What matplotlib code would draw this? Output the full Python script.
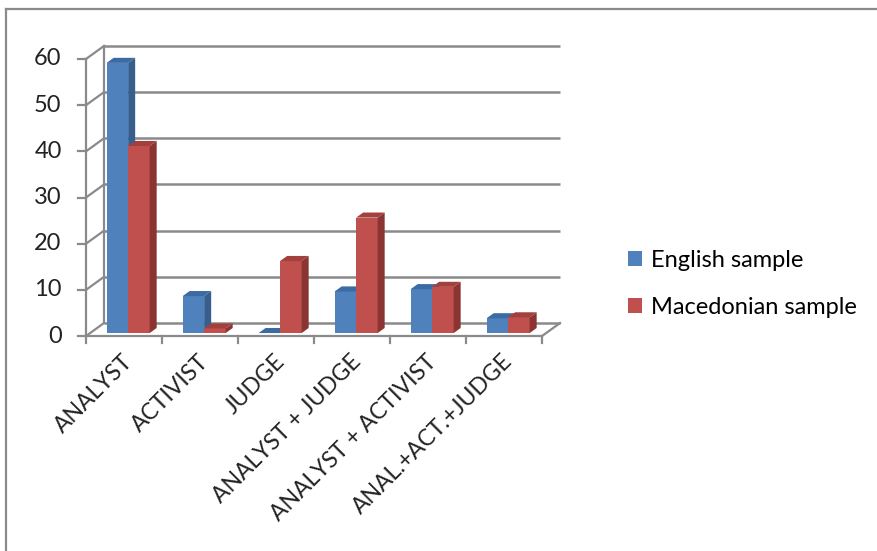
import matplotlib
matplotlib.use("Agg")
import matplotlib.pyplot as plt
from matplotlib.lines import Line2D
from matplotlib.patches import Patch

categories = ["ANALYST", "ACTIVIST", "JUDGE", "ANALYST + JUDGE",
              "ANALYST + ACTIVIST", "ANAL.+ACT.+JUDGE"]
english = [58.5, 8, 0, 9, 9.5, 3.2]
macedonian = [40.5, 1, 15.6, 25, 10, 3.4]
series_names = ["English sample", "Macedonian sample"]
y_ticks = [0, 10, 20, 30, 40, 50, 60]

plt.rcParams['font.family'] = ['Lato', 'DejaVu Sans']

W, H = 878, 551
fig = plt.figure(figsize=(W / 100, H / 100), dpi=100)
fig.patch.set_facecolor("white")

# axes placed so one category = 76 px and 60 units = 277 px
ax = fig.add_axes([48 / W, (H - 349.9) / H, 532 / W, 309.4 / H])
ax.set_xlim(-0.5, 6.5)
ax.set_ylim(-3, 64)
ax.axis("off")

GRID = "#8a8a8a"
n = len(categories)
dx, dy = 0.237, 2.82          # depth of the back wall (data units)
f0, f1 = 0.23, 0.62           # front / back depth of the bars
bw = 0.283

# back wall gridlines and the left diagonal
for v in y_ticks:
    ax.plot([dx, n + dx], [v + dy, v + dy], color=GRID, lw=1.8, zorder=1,
            solid_capstyle="butt")
    ax.plot([0, dx], [v, v + dy], color=GRID, lw=1.6, zorder=1)
ax.plot([dx, dx], [dy, y_ticks[-1] + dy], color=GRID, lw=1.6, zorder=1)
# floor
ax.plot([0, n], [0, 0], color=GRID, lw=1.6, zorder=1)
ax.plot([n, n + dx], [0, dy], color=GRID, lw=1.6, zorder=1)
# front value axis
ax.plot([0, 0], [0, y_ticks[-1]], color=GRID, lw=1.6, zorder=1)
for v in y_ticks:
    ax.plot([-0.105, 0], [v, v], color=GRID, lw=1.6, zorder=1, clip_on=False)
    ax.text(-0.32, v, str(v), ha="right", va="center", fontsize=17,
            color="#222222")
for i in range(n + 1):
    ax.plot([i, i], [0, -1.5], color=GRID, lw=1.6, zorder=1, clip_on=False)

faces = {
    0: ("#4F81BD", "#375E8D", "#3C6AA3"),
    1: ("#C0504D", "#8A3532", "#A3403D"),
}
ddx = (f1 - f0) * dx
ddy = (f1 - f0) * dy
z = 3
for i in range(n):
    left = i + 0.5 - bw + f0 * dx
    for s, vals in enumerate([english, macedonian]):
        v = vals[i]
        x0 = left + s * bw
        front, side, top = faces[s]
        b = f0 * dy
        ax.bar(x0, v, width=bw, bottom=b, align="edge", color=front,
               edgecolor="none", zorder=z)
        ax.fill([x0 + bw, x0 + bw + ddx, x0 + bw + ddx, x0 + bw],
                [b, b + ddy, b + v + ddy, b + v], color=side, lw=0, zorder=z)
        ax.fill([x0, x0 + ddx, x0 + bw + ddx, x0 + bw],
                [b + v, b + v + ddy, b + v + ddy, b + v], color=top, lw=0,
                zorder=z)
        z += 1

for i, lab in enumerate(categories):
    ax.text(i + 0.47, -3.2, lab, rotation=45, ha="right", va="top",
            rotation_mode="anchor", fontsize=16.5, color="#222222")

handles = [Patch(facecolor=faces[0][0]), Patch(facecolor=faces[1][0])]
fig.legend(handles, series_names, loc="center left",
           bbox_to_anchor=(616 / W, 1 - 284 / H), frameon=False,
           fontsize=17, handlelength=0.6, handleheight=0.6,
           handletextpad=0.4, labelspacing=1.1, borderpad=0)

# chart border (left and top only)
fig.add_artist(Line2D([6 / W, 6 / W], [0, 1 - 8.5 / H], color="#8a8a8a",
                      lw=1.6, transform=fig.transFigure))
fig.add_artist(Line2D([6 / W, 1], [1 - 8.5 / H, 1 - 8.5 / H],
                      color="#8a8a8a", lw=1.6, transform=fig.transFigure))

fig.savefig("out.png", dpi=100)
